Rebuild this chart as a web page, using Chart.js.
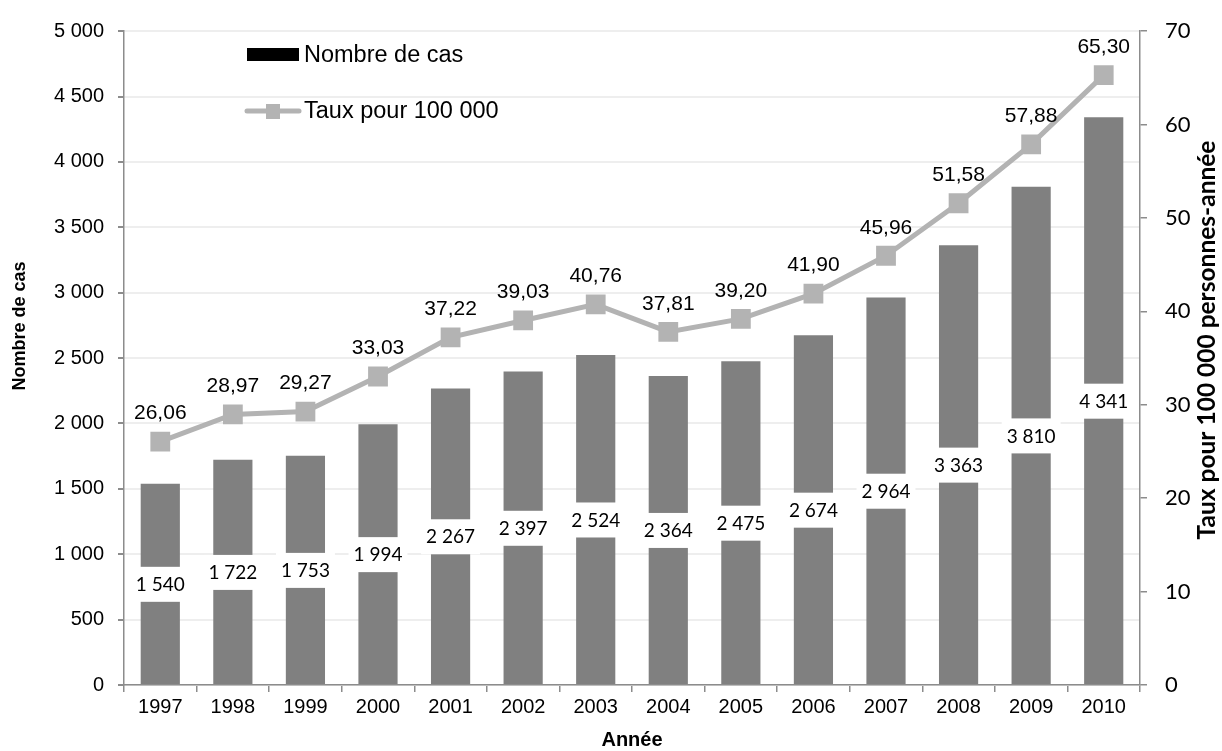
<!DOCTYPE html>
<html>
<head>
<meta charset="utf-8">
<script src="https://cdn.jsdelivr.net/npm/chart.js@4.4.0/dist/chart.umd.min.js"></script>
<style>
  body { margin: 0; background: #fff; }
  canvas { display: block; }
</style>
</head>
<body>
<canvas id="chartCas" width="1222" height="751"></canvas>
<script>
// donnees
var annees = ['1997', '1998', '1999', '2000', '2001', '2002', '2003', '2004', '2005', '2006', '2007', '2008', '2009', '2010'];
var nombreCas = [1540, 1722, 1753, 1994, 2267, 2397, 2524, 2364, 2475, 2674, 2964, 3363, 3810, 4341];
var tauxPour100000 = [26.06, 28.97, 29.27, 33.03, 37.22, 39.03, 40.76, 37.81, 39.20, 41.90, 45.96, 51.58, 57.88, 65.30];
var ticksCas = [0, 500, 1000, 1500, 2000, 2500, 3000, 3500, 4000, 4500, 5000];
var ticksTaux = [0, 10, 20, 30, 40, 50, 60, 70];

var couleurBarre = '#808080';
var couleurLigne = '#b3b3b3';
var couleurAxe = '#8c8c8c';

function milliers(v) {
    return String(v).replace(/\B(?=(\d{3})+(?!\d))/g, ' ');
}
function virgule(v) {
    return v.toFixed(2).replace('.', ',');
}

// etiquettes des barres (fond blanc) et de la ligne
var etiquettesPlugin = {
    id: 'etiquettes',
    afterDatasetsDraw: function (chart) {
        var ctx = chart.ctx;
        ctx.save();
        var barres = chart.getDatasetMeta(1);
        ctx.font = '19px Lato';
        ctx.textAlign = 'center';
        ctx.textBaseline = 'middle';
        barres.data.forEach(function (el, i) {
            var txt = milliers(nombreCas[i]);
            var y = (el.y + el.base) / 2;
            var w = ctx.measureText(txt).width + 10;
            ctx.fillStyle = '#fff';
            ctx.fillRect(el.x - w / 2, y - 17, w, 35);
            ctx.fillStyle = '#000';
            ctx.fillText(txt, el.x, y + 1);
        });
        var ligne = chart.getDatasetMeta(0);
        ctx.font = '21px "Liberation Sans", Arial';
        ligne.data.forEach(function (el, i) {
            ctx.fillStyle = '#000';
            ctx.fillText(virgule(tauxPour100000[i]), el.x, el.y - 28);
        });
        ctx.restore();
    },
    afterDraw: function (chart) {
        var ctx = chart.ctx;
        var area = chart.chartArea;
        ctx.save();
        // legende
        ctx.fillStyle = '#000';
        ctx.fillRect(247, 48, 52, 13);
        ctx.font = '23.5px "Liberation Sans", Arial';
        ctx.textBaseline = 'middle';
        ctx.textAlign = 'left';
        ctx.fillText('Nombre de cas', 304, 56);
        ctx.strokeStyle = couleurLigne;
        ctx.lineWidth = 5;
        ctx.lineCap = 'round';
        ctx.beginPath();
        ctx.moveTo(247, 111);
        ctx.lineTo(299, 111);
        ctx.stroke();
        ctx.fillStyle = couleurLigne;
        ctx.fillRect(266, 104, 14, 15);
        ctx.fillStyle = '#000';
        ctx.fillText('Taux pour 100 000', 304, 112);

        // titres des axes
        ctx.font = 'bold 20px "Liberation Sans", Arial';
        ctx.textAlign = 'center';
        ctx.fillText('Année', (area.left + area.right) / 2, 740);

        ctx.save();
        ctx.translate(20, 326);
        ctx.rotate(-Math.PI / 2);
        ctx.font = 'bold 18px "Liberation Sans", Arial';
        ctx.fillText('Nombre de cas', 0, 0);
        ctx.restore();

        ctx.save();
        ctx.translate(1207, 340);
        ctx.rotate(-Math.PI / 2);
        ctx.font = 'bold 24.5px Lato';
        ctx.fillText('Taux pour 100 000 personnes-année', 0, 0);
        ctx.restore();
        ctx.restore();
    }
};

var ctx = document.getElementById('chartCas').getContext('2d');
var chartCas = new Chart(ctx, {
    data: {
        labels: annees,
        datasets: [{
            type: 'line',
            label: 'Taux pour 100 000',
            data: tauxPour100000,
            yAxisID: 'y1',
            borderColor: couleurLigne,
            backgroundColor: couleurLigne,
            borderWidth: 5,
            pointStyle: 'rect',
            pointRadius: 14,
            pointBorderWidth: 0,
            pointBackgroundColor: couleurLigne,
            tension: 0,
            order: 1
        }, {
            type: 'bar',
            label: 'Nombre de cas',
            data: nombreCas,
            yAxisID: 'y',
            backgroundColor: couleurBarre,
            categoryPercentage: 1,
            barPercentage: 0.54,
            order: 2
        }]
    },
    options: {
        responsive: false,
        animation: false,
        layout: { padding: { top: 25, left: 0, right: 0, bottom: 0 } },
        plugins: {
            legend: { display: false },
            tooltip: { enabled: false }
        },
        scales: {
            x: {
                grid: { display: true, drawOnChartArea: false, offset: true, tickLength: 7, tickColor: couleurAxe, lineWidth: 1.5 },
                border: { color: couleurAxe, width: 1.5 },
                ticks: { color: '#000', font: { family: '"Liberation Sans", Arial', size: 20 }, padding: 3, maxRotation: 0 },
                afterFit: function (s) { s.height = 66; }
            },
            y: {
                position: 'left',
                min: 0,
                max: 5000,
                afterBuildTicks: function (s) { s.ticks = ticksCas.map(function (v) { return { value: v }; }); },
                ticks: { color: '#000', font: { family: '"Liberation Sans", Arial', size: 20 }, padding: 14, callback: function (v) { return milliers(v); } },
                grid: { color: '#eeeeee', lineWidth: 2, tickColor: couleurAxe, tickLength: 6 },
                border: { color: couleurAxe, width: 1.5 },
                afterFit: function (s) { s.width = 124; }
            },
            y1: {
                position: 'right',
                min: 0,
                max: 70,
                afterBuildTicks: function (s) { s.ticks = ticksTaux.map(function (v) { return { value: v }; }); },
                ticks: { color: '#000', font: { family: 'Lato', size: 22 }, padding: 18 },
                grid: { drawOnChartArea: false, tickColor: couleurAxe, tickLength: 7, lineWidth: 1.5 },
                border: { color: couleurAxe, width: 1.5 },
                afterFit: function (s) { s.width = 82; }
            }
        }
    },
    plugins: [etiquettesPlugin]
});
</script>
</body>
</html>
